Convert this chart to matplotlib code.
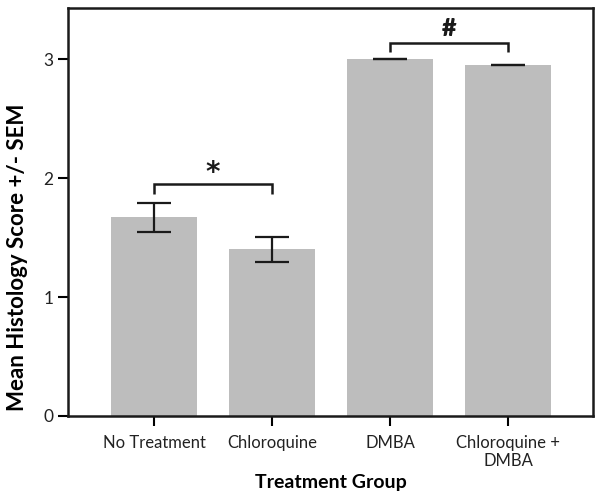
import matplotlib
matplotlib.use("Agg")
import matplotlib.pyplot as plt

plt.rcParams['font.family'] = ['Lato', 'DejaVu Sans']

groups = ["No Treatment", "Chloroquine", "DMBA", "Chloroquine +\nDMBA"]
means = [1.67, 1.40, 3.00, 2.95]
sems = [0.12, 0.105, 0.0, 0.0]

# significance brackets: (left bar, right bar, bracket height, symbol)
brackets = [(0, 1, 1.95, "*"), (2, 3, 3.14, "#")]

fig = plt.figure(figsize=(6.04, 4.92), dpi=100)
ax = fig.add_axes([0.1126, 0.1545, 0.8692, 0.8292])

x = range(len(groups))
ax.bar(x, means, width=0.73, color="#bdbdbd", zorder=1)
ax.errorbar(x, means, yerr=sems, fmt="none", ecolor="#1a1a1a",
            elinewidth=1.6, capsize=12, capthick=1.6, zorder=2)

for i, j, h, sym in brackets:
    ax.plot([i, i, j, j], [h - 0.08, h, h, h - 0.08], color="#1a1a1a",
            lw=1.8, solid_capstyle="butt", solid_joinstyle="miter")
    if sym == "*":
        ax.text((i + j) / 2, h + 0.09, sym, ha="center", va="center",
                fontsize=20, fontweight="bold", color="#1a1a1a",
                family="DejaVu Sans")
    else:
        ax.text((i + j) / 2, h + 0.11, sym, ha="center", va="center",
                fontsize=18, fontweight="heavy", color="#1a1a1a")

ax.set_xlim(-0.73, 3.72)
ax.set_ylim(0, 3.43)
ax.set_yticks([0, 1, 2, 3])
ax.set_xticks(list(x))
ax.set_xticklabels(groups, fontsize=12, linespacing=1.1, color="#222222")
ax.tick_params(axis="y", labelsize=12.5, length=7, width=1.5, direction="out",
               labelcolor="#222222")
ax.tick_params(axis="x", length=7, width=1.5, direction="out", pad=7)

for s in ax.spines.values():
    s.set_linewidth(1.8)
    s.set_color("#1a1a1a")

ax.set_xlabel("Treatment Group", fontsize=14, fontweight="bold", labelpad=4)
ax.set_ylabel("Mean Histology Score +/- SEM", fontsize=16, fontweight="bold")
ax.yaxis.set_label_coords(-0.077, 0.39)

fig.savefig("out.png", dpi=100)
